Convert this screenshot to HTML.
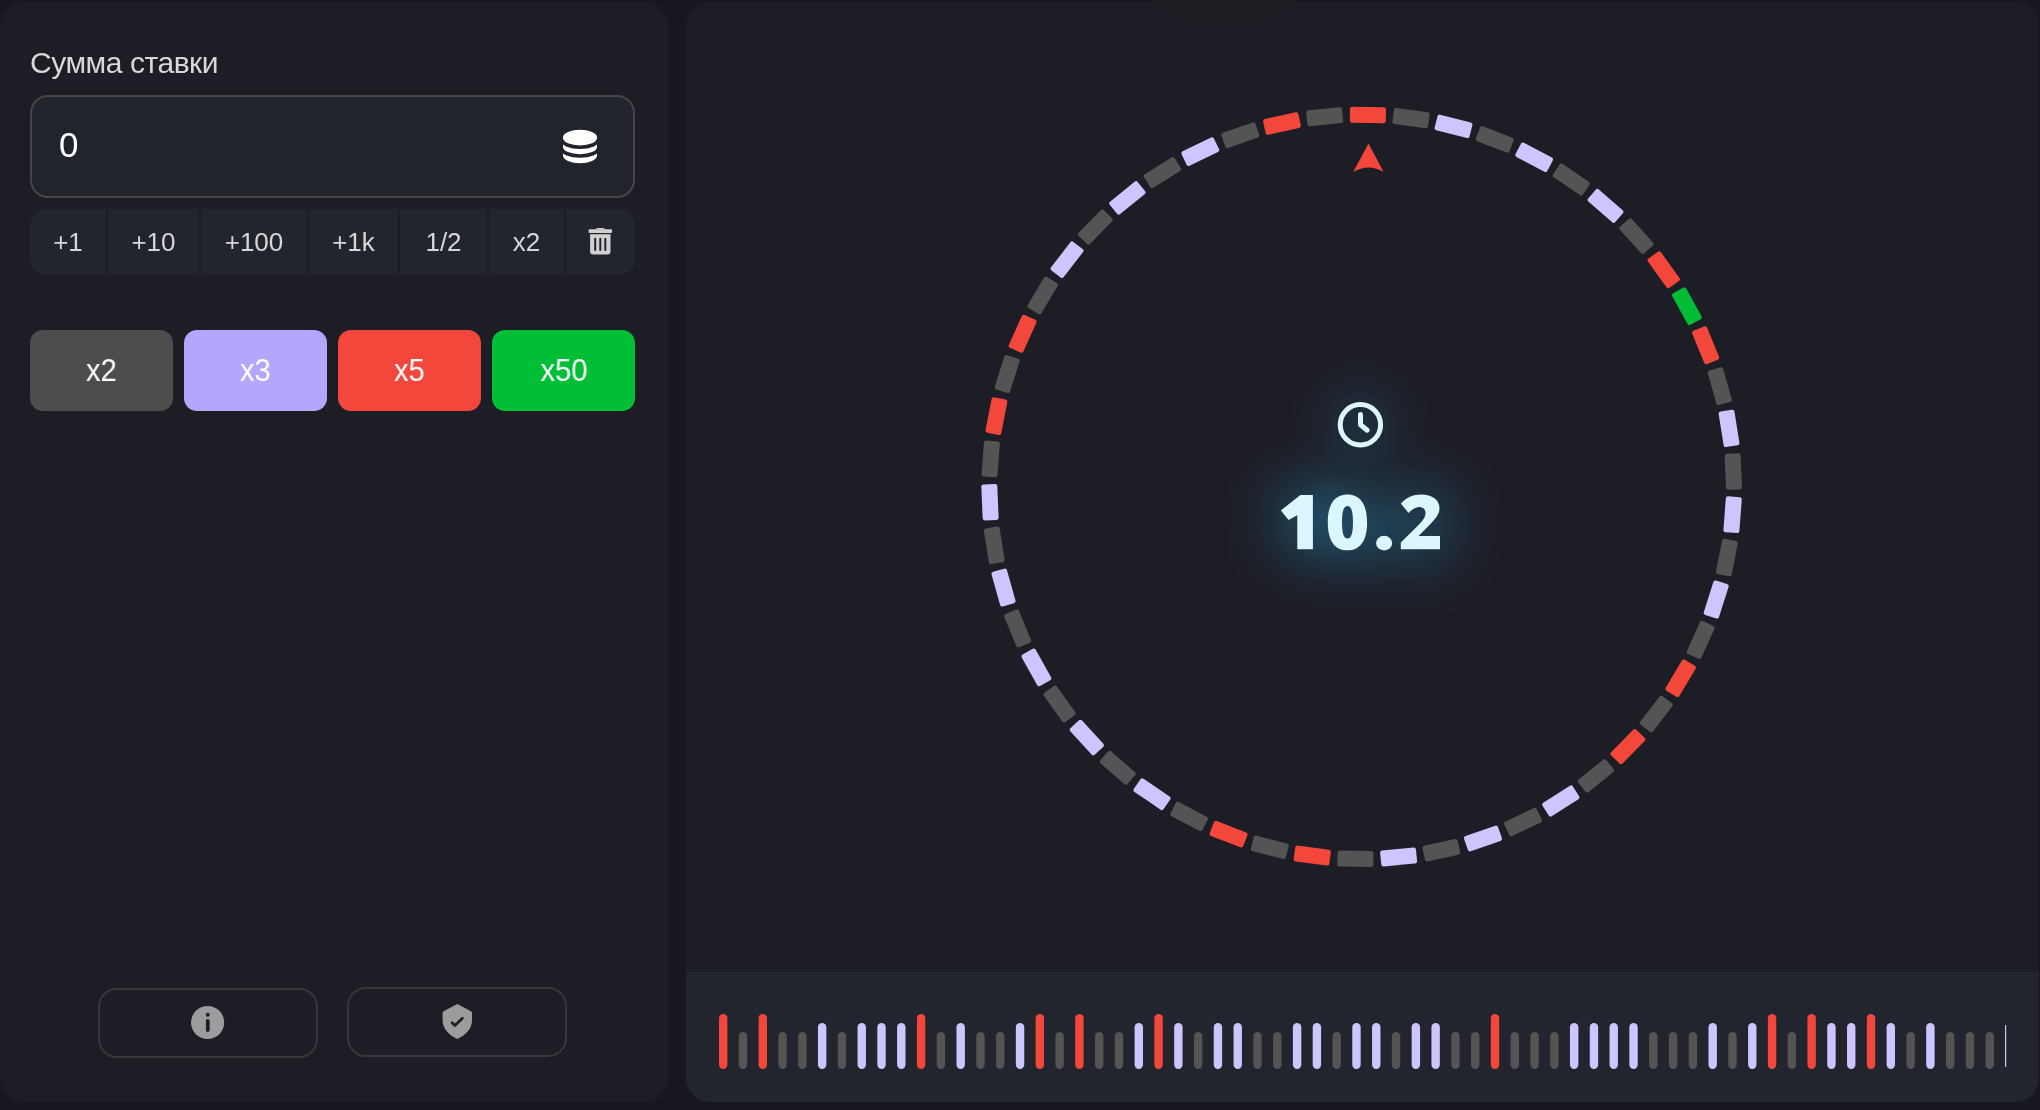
<!DOCTYPE html>
<html><head><meta charset="utf-8">
<style>
*{margin:0;padding:0;box-sizing:border-box}
html,body{width:2040px;height:1110px;overflow:hidden;background:#17181f;font-family:"Liberation Sans",sans-serif}
.abs{position:absolute}
.t{will-change:transform}
.panel{position:absolute;top:2px;height:1100px;border-radius:24px;background:#1d1d26;overflow:hidden}
#left{left:0;width:668px}
#right{left:686px;width:1353px}
.label{position:absolute;left:30px;top:46px;font-size:30px;letter-spacing:-0.45px;color:#d8d8d8;white-space:nowrap;line-height:34px}
.input{position:absolute;left:30px;top:95px;width:605px;height:103px;border:2px solid #464644;border-radius:18px;background:#22242d}
.val{position:absolute;left:59px;top:125px;font-size:35px;color:#fff;line-height:40px}
.quick{position:absolute;left:30px;top:209px;width:605px;height:66px;border-radius:16px;background:#1c1d25;overflow:hidden}
.q{position:absolute;top:0;height:66px;background:#22252e;color:#d6d6d6;font-size:26px;line-height:66px;text-align:center}
.mult{position:absolute;top:330px;width:143px;height:81px;border-radius:13px;color:#fff;font-size:31px;line-height:81px;text-align:center}
.mult span{display:inline-block;transform:scaleX(0.94)}
.ob{position:absolute;width:220px;height:70px;border:2px solid #37373a;border-radius:19px}
.hist{position:absolute;left:686px;top:972px;width:1353px;height:130px;background:#22252e;border-radius:0 0 24px 24px}
</style></head><body>
<div id="left" class="panel"></div>
<div id="right" class="panel"></div>
<div class="hist"></div>

<div class="label t">Сумма ставки</div>
<div class="input"></div>
<div class="val t">0</div>

<div class="quick">
  <div class="q t" style="left:0;width:76px">+1</div>
  <div class="q t" style="left:78px;width:91px">+10</div>
  <div class="q t" style="left:171px;width:106px">+100</div>
  <div class="q t" style="left:279px;width:89px">+1k</div>
  <div class="q t" style="left:370px;width:87px">1/2</div>
  <div class="q t" style="left:459px;width:75px">x2</div>
  <div class="q" style="left:536px;width:69px"></div>
</div>

<div class="mult" style="left:30px;background:#4d4d4d"><span class="t">x2</span></div>
<div class="mult" style="left:184px;background:#b4a6fc"><span class="t">x3</span></div>
<div class="mult" style="left:338px;background:#f4473b"><span class="t">x5</span></div>
<div class="mult" style="left:492px;background:#00bf36"><span class="t">x50</span></div>

<div class="ob" style="left:98px;top:988px"></div>
<div class="ob" style="left:347px;top:987px"></div>

<svg class="abs" style="left:0;top:0" width="2040" height="1110" viewBox="0 0 2040 1110">
<defs>
  <filter id="glow" color-interpolation-filters="sRGB" filterUnits="userSpaceOnUse" x="1060" y="260" width="600" height="520"><feGaussianBlur stdDeviation="30"/></filter>
  <filter id="glow2" color-interpolation-filters="sRGB" filterUnits="userSpaceOnUse" x="1160" y="240" width="400" height="380"><feGaussianBlur stdDeviation="24"/></filter>
</defs>
<!-- coin icon -->
<g fill="#fff">
  <path d="M563 137.4 V155.6 A17 7.6 0 0 0 597 155.6 V137.4 Z"/>
  <ellipse cx="580" cy="137.4" rx="17" ry="7.6"/>
</g>
<g fill="none" stroke="#22242d" stroke-width="3.6">
  <path d="M562 139.6 A18 7.6 0 0 0 598 139.6"/>
  <path d="M562 148.4 A18 7.6 0 0 0 598 148.4"/>
</g>
<!-- trash -->
<g fill="#d0d0d0">
  <rect x="588.6" y="229.2" width="23.5" height="3.8" rx="1.2"/>
  <path d="M595.3 229.6 L597.2 227.9 H603.6 L605.5 229.6 Z"/>
  <path d="M590.1 234.2 H610.5 V251.2 Q610.5 254.4 607.3 254.4 H593.3 Q590.1 254.4 590.1 251.2 Z"/>
</g>
<g fill="#22252e">
  <rect x="594.2" y="237.8" width="2" height="13.2" rx="1"/>
  <rect x="599.3" y="237.8" width="2" height="13.2" rx="1"/>
  <rect x="604.3" y="237.8" width="2" height="13.2" rx="1"/>
</g>
<!-- info -->
<circle cx="207.6" cy="1022.5" r="16.6" fill="#9c9c9c"/>
<circle cx="207.8" cy="1014.7" r="1.95" fill="#1d1d26"/>
<rect x="205.9" y="1019" width="3.8" height="13" rx="1.9" fill="#1d1d26"/>
<!-- shield -->
<path d="M457.3 1003.9 L471 1011.2 Q472 1011.8 472 1013 V1020 C472 1028 466.5 1034.8 457.3 1039.1 C448.1 1034.8 442.6 1028 442.6 1020 V1013 Q442.6 1011.8 443.6 1011.2 Z" fill="#9c9c9c"/>
<path d="M452.1 1022.7 L454.9 1025.5 L462.4 1018.2" fill="none" stroke="#1d1d26" stroke-width="2.7" stroke-linecap="round" stroke-linejoin="round"/>

<!-- faint top notch -->
<path d="M1150 0 H1296 L1284 10 C1274 18 1258 23 1224 23 C1190 23 1174 18 1164 10 Z" fill="#1f1f25" opacity="0.8"/>
<!-- wheel -->
<g transform="translate(1361.65 486.85)">
<rect x="-18" y="-8" width="36" height="16" rx="2.2" fill="#f4473b" transform="rotate(0.963) translate(0 -372)"/>
<rect x="-18" y="-8" width="36" height="16" rx="2.2" fill="#545454" transform="rotate(7.630) translate(0 -372)"/>
<rect x="-18" y="-8" width="36" height="16" rx="2.2" fill="#cdc5fd" transform="rotate(14.296) translate(0 -372)"/>
<rect x="-18" y="-8" width="36" height="16" rx="2.2" fill="#545454" transform="rotate(20.963) translate(0 -372)"/>
<rect x="-18" y="-8" width="36" height="16" rx="2.2" fill="#cdc5fd" transform="rotate(27.630) translate(0 -372)"/>
<rect x="-18" y="-8" width="36" height="16" rx="2.2" fill="#545454" transform="rotate(34.296) translate(0 -372)"/>
<rect x="-18" y="-8" width="36" height="16" rx="2.2" fill="#cdc5fd" transform="rotate(40.963) translate(0 -372)"/>
<rect x="-18" y="-8" width="36" height="16" rx="2.2" fill="#545454" transform="rotate(47.630) translate(0 -372)"/>
<rect x="-18" y="-8" width="36" height="16" rx="2.2" fill="#f4473b" transform="rotate(54.296) translate(0 -372)"/>
<rect x="-18" y="-8" width="36" height="16" rx="2.2" fill="#00bd35" transform="rotate(60.963) translate(0 -372)"/>
<rect x="-18" y="-8" width="36" height="16" rx="2.2" fill="#f4473b" transform="rotate(67.630) translate(0 -372)"/>
<rect x="-18" y="-8" width="36" height="16" rx="2.2" fill="#545454" transform="rotate(74.296) translate(0 -372)"/>
<rect x="-18" y="-8" width="36" height="16" rx="2.2" fill="#cdc5fd" transform="rotate(80.963) translate(0 -372)"/>
<rect x="-18" y="-8" width="36" height="16" rx="2.2" fill="#545454" transform="rotate(87.630) translate(0 -372)"/>
<rect x="-18" y="-8" width="36" height="16" rx="2.2" fill="#cdc5fd" transform="rotate(94.296) translate(0 -372)"/>
<rect x="-18" y="-8" width="36" height="16" rx="2.2" fill="#545454" transform="rotate(100.963) translate(0 -372)"/>
<rect x="-18" y="-8" width="36" height="16" rx="2.2" fill="#cdc5fd" transform="rotate(107.630) translate(0 -372)"/>
<rect x="-18" y="-8" width="36" height="16" rx="2.2" fill="#545454" transform="rotate(114.296) translate(0 -372)"/>
<rect x="-18" y="-8" width="36" height="16" rx="2.2" fill="#f4473b" transform="rotate(120.963) translate(0 -372)"/>
<rect x="-18" y="-8" width="36" height="16" rx="2.2" fill="#545454" transform="rotate(127.630) translate(0 -372)"/>
<rect x="-18" y="-8" width="36" height="16" rx="2.2" fill="#f4473b" transform="rotate(134.296) translate(0 -372)"/>
<rect x="-18" y="-8" width="36" height="16" rx="2.2" fill="#545454" transform="rotate(140.963) translate(0 -372)"/>
<rect x="-18" y="-8" width="36" height="16" rx="2.2" fill="#cdc5fd" transform="rotate(147.630) translate(0 -372)"/>
<rect x="-18" y="-8" width="36" height="16" rx="2.2" fill="#545454" transform="rotate(154.296) translate(0 -372)"/>
<rect x="-18" y="-8" width="36" height="16" rx="2.2" fill="#cdc5fd" transform="rotate(160.963) translate(0 -372)"/>
<rect x="-18" y="-8" width="36" height="16" rx="2.2" fill="#545454" transform="rotate(167.630) translate(0 -372)"/>
<rect x="-18" y="-8" width="36" height="16" rx="2.2" fill="#cdc5fd" transform="rotate(174.296) translate(0 -372)"/>
<rect x="-18" y="-8" width="36" height="16" rx="2.2" fill="#545454" transform="rotate(180.963) translate(0 -372)"/>
<rect x="-18" y="-8" width="36" height="16" rx="2.2" fill="#f4473b" transform="rotate(187.630) translate(0 -372)"/>
<rect x="-18" y="-8" width="36" height="16" rx="2.2" fill="#545454" transform="rotate(194.296) translate(0 -372)"/>
<rect x="-18" y="-8" width="36" height="16" rx="2.2" fill="#f4473b" transform="rotate(200.963) translate(0 -372)"/>
<rect x="-18" y="-8" width="36" height="16" rx="2.2" fill="#545454" transform="rotate(207.630) translate(0 -372)"/>
<rect x="-18" y="-8" width="36" height="16" rx="2.2" fill="#cdc5fd" transform="rotate(214.296) translate(0 -372)"/>
<rect x="-18" y="-8" width="36" height="16" rx="2.2" fill="#545454" transform="rotate(220.963) translate(0 -372)"/>
<rect x="-18" y="-8" width="36" height="16" rx="2.2" fill="#cdc5fd" transform="rotate(227.630) translate(0 -372)"/>
<rect x="-18" y="-8" width="36" height="16" rx="2.2" fill="#545454" transform="rotate(234.296) translate(0 -372)"/>
<rect x="-18" y="-8" width="36" height="16" rx="2.2" fill="#cdc5fd" transform="rotate(240.963) translate(0 -372)"/>
<rect x="-18" y="-8" width="36" height="16" rx="2.2" fill="#545454" transform="rotate(247.630) translate(0 -372)"/>
<rect x="-18" y="-8" width="36" height="16" rx="2.2" fill="#cdc5fd" transform="rotate(254.296) translate(0 -372)"/>
<rect x="-18" y="-8" width="36" height="16" rx="2.2" fill="#545454" transform="rotate(260.963) translate(0 -372)"/>
<rect x="-18" y="-8" width="36" height="16" rx="2.2" fill="#cdc5fd" transform="rotate(267.630) translate(0 -372)"/>
<rect x="-18" y="-8" width="36" height="16" rx="2.2" fill="#545454" transform="rotate(274.296) translate(0 -372)"/>
<rect x="-18" y="-8" width="36" height="16" rx="2.2" fill="#f4473b" transform="rotate(280.963) translate(0 -372)"/>
<rect x="-18" y="-8" width="36" height="16" rx="2.2" fill="#545454" transform="rotate(287.630) translate(0 -372)"/>
<rect x="-18" y="-8" width="36" height="16" rx="2.2" fill="#f4473b" transform="rotate(294.296) translate(0 -372)"/>
<rect x="-18" y="-8" width="36" height="16" rx="2.2" fill="#545454" transform="rotate(300.963) translate(0 -372)"/>
<rect x="-18" y="-8" width="36" height="16" rx="2.2" fill="#cdc5fd" transform="rotate(307.630) translate(0 -372)"/>
<rect x="-18" y="-8" width="36" height="16" rx="2.2" fill="#545454" transform="rotate(314.296) translate(0 -372)"/>
<rect x="-18" y="-8" width="36" height="16" rx="2.2" fill="#cdc5fd" transform="rotate(320.963) translate(0 -372)"/>
<rect x="-18" y="-8" width="36" height="16" rx="2.2" fill="#545454" transform="rotate(327.630) translate(0 -372)"/>
<rect x="-18" y="-8" width="36" height="16" rx="2.2" fill="#cdc5fd" transform="rotate(334.296) translate(0 -372)"/>
<rect x="-18" y="-8" width="36" height="16" rx="2.2" fill="#545454" transform="rotate(340.963) translate(0 -372)"/>
<rect x="-18" y="-8" width="36" height="16" rx="2.2" fill="#f4473b" transform="rotate(347.630) translate(0 -372)"/>
<rect x="-18" y="-8" width="36" height="16" rx="2.2" fill="#545454" transform="rotate(354.296) translate(0 -372)"/>
</g>
<path d="M1368.5 143.5 L1383.6 172 Q1368.5 163 1353.2 172 Z" fill="#f4473b"/>

<!-- timer glow -->
<g style="mix-blend-mode:screen" opacity="1" filter="url(#glow)" fill="#0a90c4" stroke="#0a90c4">
  <path d="M1280.8 510.6 L1300.4 494.9 H1312.9 V549.3 H1297.3 V515.3 L1288.6 520 Z"/>
<path fill-rule="evenodd" d="M1347.45 494.6 C1359.6 494.6 1367.1 503.5 1367.1 522.45 C1367.1 541.4 1359.6 550.3 1347.45 550.3 C1335.3 550.3 1327.8 541.4 1327.8 522.45 C1327.8 503.5 1335.3 494.6 1347.45 494.6 Z M1347.5 505.9 C1344 505.9 1342 510.5 1342 522.2 C1342 533.9 1344 538.5 1347.5 538.5 C1351 538.5 1353 533.9 1353 522.2 C1353 510.5 1351 505.9 1347.5 505.9 Z"/>
<ellipse cx="1384.1" cy="543.1" rx="8.1" ry="7.3"/>
<path d="M1400.8 549.3 H1440 V536 H1418.5 L1428.5 526 C1435.5 519 1439.5 514 1439.5 508.5 C1439.5 500 1432.5 494.6 1421 494.6 C1413 494.6 1406.5 497.8 1400.8 503.5 L1408.6 513 C1412 509.5 1415.5 507 1419 507 C1423 507 1425.5 509.3 1425.5 513 C1425.5 517 1423 520.5 1418 525.5 L1400.8 542.5 Z"/>
</g>
<g style="mix-blend-mode:screen" opacity="0.8" filter="url(#glow2)" fill="none" stroke="#0a90c4" stroke-width="5" stroke-linecap="round" stroke-linejoin="round">
  <circle cx="1360.4" cy="424.7" r="20.2"/>
<path d="M1360.5 414.4 V424.7 L1367.2 430.2"/>
</g>
<g fill="#dcf6fd">
  <path d="M1280.8 510.6 L1300.4 494.9 H1312.9 V549.3 H1297.3 V515.3 L1288.6 520 Z"/>
<path fill-rule="evenodd" d="M1347.45 494.6 C1359.6 494.6 1367.1 503.5 1367.1 522.45 C1367.1 541.4 1359.6 550.3 1347.45 550.3 C1335.3 550.3 1327.8 541.4 1327.8 522.45 C1327.8 503.5 1335.3 494.6 1347.45 494.6 Z M1347.5 505.9 C1344 505.9 1342 510.5 1342 522.2 C1342 533.9 1344 538.5 1347.5 538.5 C1351 538.5 1353 533.9 1353 522.2 C1353 510.5 1351 505.9 1347.5 505.9 Z"/>
<ellipse cx="1384.1" cy="543.1" rx="8.1" ry="7.3"/>
<path d="M1400.8 549.3 H1440 V536 H1418.5 L1428.5 526 C1435.5 519 1439.5 514 1439.5 508.5 C1439.5 500 1432.5 494.6 1421 494.6 C1413 494.6 1406.5 497.8 1400.8 503.5 L1408.6 513 C1412 509.5 1415.5 507 1419 507 C1423 507 1425.5 509.3 1425.5 513 C1425.5 517 1423 520.5 1418 525.5 L1400.8 542.5 Z"/>
</g>
<g fill="none" stroke="#dcf6fd" stroke-width="5" stroke-linecap="round" stroke-linejoin="round">
  <circle cx="1360.4" cy="424.7" r="20.2"/>
<path d="M1360.5 414.4 V424.7 L1367.2 430.2"/>
</g>

<rect x="719.00" y="1014" width="8.4" height="55" rx="4.2" fill="#f4473b"/>
<rect x="738.79" y="1032" width="8.4" height="37" rx="4.2" fill="#545454"/>
<rect x="758.58" y="1014" width="8.4" height="55" rx="4.2" fill="#f4473b"/>
<rect x="778.37" y="1032" width="8.4" height="37" rx="4.2" fill="#545454"/>
<rect x="798.16" y="1032" width="8.4" height="37" rx="4.2" fill="#545454"/>
<rect x="817.95" y="1023" width="8.4" height="46" rx="4.2" fill="#cdc5fd"/>
<rect x="837.74" y="1032" width="8.4" height="37" rx="4.2" fill="#545454"/>
<rect x="857.53" y="1023" width="8.4" height="46" rx="4.2" fill="#cdc5fd"/>
<rect x="877.32" y="1023" width="8.4" height="46" rx="4.2" fill="#cdc5fd"/>
<rect x="897.11" y="1023" width="8.4" height="46" rx="4.2" fill="#cdc5fd"/>
<rect x="916.90" y="1014" width="8.4" height="55" rx="4.2" fill="#f4473b"/>
<rect x="936.69" y="1032" width="8.4" height="37" rx="4.2" fill="#545454"/>
<rect x="956.48" y="1023" width="8.4" height="46" rx="4.2" fill="#cdc5fd"/>
<rect x="976.27" y="1032" width="8.4" height="37" rx="4.2" fill="#545454"/>
<rect x="996.06" y="1032" width="8.4" height="37" rx="4.2" fill="#545454"/>
<rect x="1015.85" y="1023" width="8.4" height="46" rx="4.2" fill="#cdc5fd"/>
<rect x="1035.64" y="1014" width="8.4" height="55" rx="4.2" fill="#f4473b"/>
<rect x="1055.43" y="1032" width="8.4" height="37" rx="4.2" fill="#545454"/>
<rect x="1075.22" y="1014" width="8.4" height="55" rx="4.2" fill="#f4473b"/>
<rect x="1095.01" y="1032" width="8.4" height="37" rx="4.2" fill="#545454"/>
<rect x="1114.80" y="1032" width="8.4" height="37" rx="4.2" fill="#545454"/>
<rect x="1134.59" y="1023" width="8.4" height="46" rx="4.2" fill="#cdc5fd"/>
<rect x="1154.38" y="1014" width="8.4" height="55" rx="4.2" fill="#f4473b"/>
<rect x="1174.17" y="1023" width="8.4" height="46" rx="4.2" fill="#cdc5fd"/>
<rect x="1193.96" y="1032" width="8.4" height="37" rx="4.2" fill="#545454"/>
<rect x="1213.75" y="1023" width="8.4" height="46" rx="4.2" fill="#cdc5fd"/>
<rect x="1233.54" y="1023" width="8.4" height="46" rx="4.2" fill="#cdc5fd"/>
<rect x="1253.33" y="1032" width="8.4" height="37" rx="4.2" fill="#545454"/>
<rect x="1273.12" y="1032" width="8.4" height="37" rx="4.2" fill="#545454"/>
<rect x="1292.91" y="1023" width="8.4" height="46" rx="4.2" fill="#cdc5fd"/>
<rect x="1312.70" y="1023" width="8.4" height="46" rx="4.2" fill="#cdc5fd"/>
<rect x="1332.49" y="1032" width="8.4" height="37" rx="4.2" fill="#545454"/>
<rect x="1352.28" y="1023" width="8.4" height="46" rx="4.2" fill="#cdc5fd"/>
<rect x="1372.07" y="1023" width="8.4" height="46" rx="4.2" fill="#cdc5fd"/>
<rect x="1391.86" y="1032" width="8.4" height="37" rx="4.2" fill="#545454"/>
<rect x="1411.65" y="1023" width="8.4" height="46" rx="4.2" fill="#cdc5fd"/>
<rect x="1431.44" y="1023" width="8.4" height="46" rx="4.2" fill="#cdc5fd"/>
<rect x="1451.23" y="1032" width="8.4" height="37" rx="4.2" fill="#545454"/>
<rect x="1471.02" y="1032" width="8.4" height="37" rx="4.2" fill="#545454"/>
<rect x="1490.81" y="1014" width="8.4" height="55" rx="4.2" fill="#f4473b"/>
<rect x="1510.60" y="1032" width="8.4" height="37" rx="4.2" fill="#545454"/>
<rect x="1530.39" y="1032" width="8.4" height="37" rx="4.2" fill="#545454"/>
<rect x="1550.18" y="1032" width="8.4" height="37" rx="4.2" fill="#545454"/>
<rect x="1569.97" y="1023" width="8.4" height="46" rx="4.2" fill="#cdc5fd"/>
<rect x="1589.76" y="1023" width="8.4" height="46" rx="4.2" fill="#cdc5fd"/>
<rect x="1609.55" y="1023" width="8.4" height="46" rx="4.2" fill="#cdc5fd"/>
<rect x="1629.34" y="1023" width="8.4" height="46" rx="4.2" fill="#cdc5fd"/>
<rect x="1649.13" y="1032" width="8.4" height="37" rx="4.2" fill="#545454"/>
<rect x="1668.92" y="1032" width="8.4" height="37" rx="4.2" fill="#545454"/>
<rect x="1688.71" y="1032" width="8.4" height="37" rx="4.2" fill="#545454"/>
<rect x="1708.50" y="1023" width="8.4" height="46" rx="4.2" fill="#cdc5fd"/>
<rect x="1728.29" y="1032" width="8.4" height="37" rx="4.2" fill="#545454"/>
<rect x="1748.08" y="1023" width="8.4" height="46" rx="4.2" fill="#cdc5fd"/>
<rect x="1767.87" y="1014" width="8.4" height="55" rx="4.2" fill="#f4473b"/>
<rect x="1787.66" y="1032" width="8.4" height="37" rx="4.2" fill="#545454"/>
<rect x="1807.45" y="1014" width="8.4" height="55" rx="4.2" fill="#f4473b"/>
<rect x="1827.24" y="1023" width="8.4" height="46" rx="4.2" fill="#cdc5fd"/>
<rect x="1847.03" y="1023" width="8.4" height="46" rx="4.2" fill="#cdc5fd"/>
<rect x="1866.82" y="1014" width="8.4" height="55" rx="4.2" fill="#f4473b"/>
<rect x="1886.61" y="1023" width="8.4" height="46" rx="4.2" fill="#cdc5fd"/>
<rect x="1906.40" y="1032" width="8.4" height="37" rx="4.2" fill="#545454"/>
<rect x="1926.19" y="1023" width="8.4" height="46" rx="4.2" fill="#cdc5fd"/>
<rect x="1945.98" y="1032" width="8.4" height="37" rx="4.2" fill="#545454"/>
<rect x="1965.77" y="1032" width="8.4" height="37" rx="4.2" fill="#545454"/>
<rect x="1985.56" y="1032" width="8.4" height="37" rx="4.2" fill="#545454"/>
<rect x="2005" y="1025" width="1.2" height="42" fill="#cdc5fd"/>
</svg>
</body></html>
